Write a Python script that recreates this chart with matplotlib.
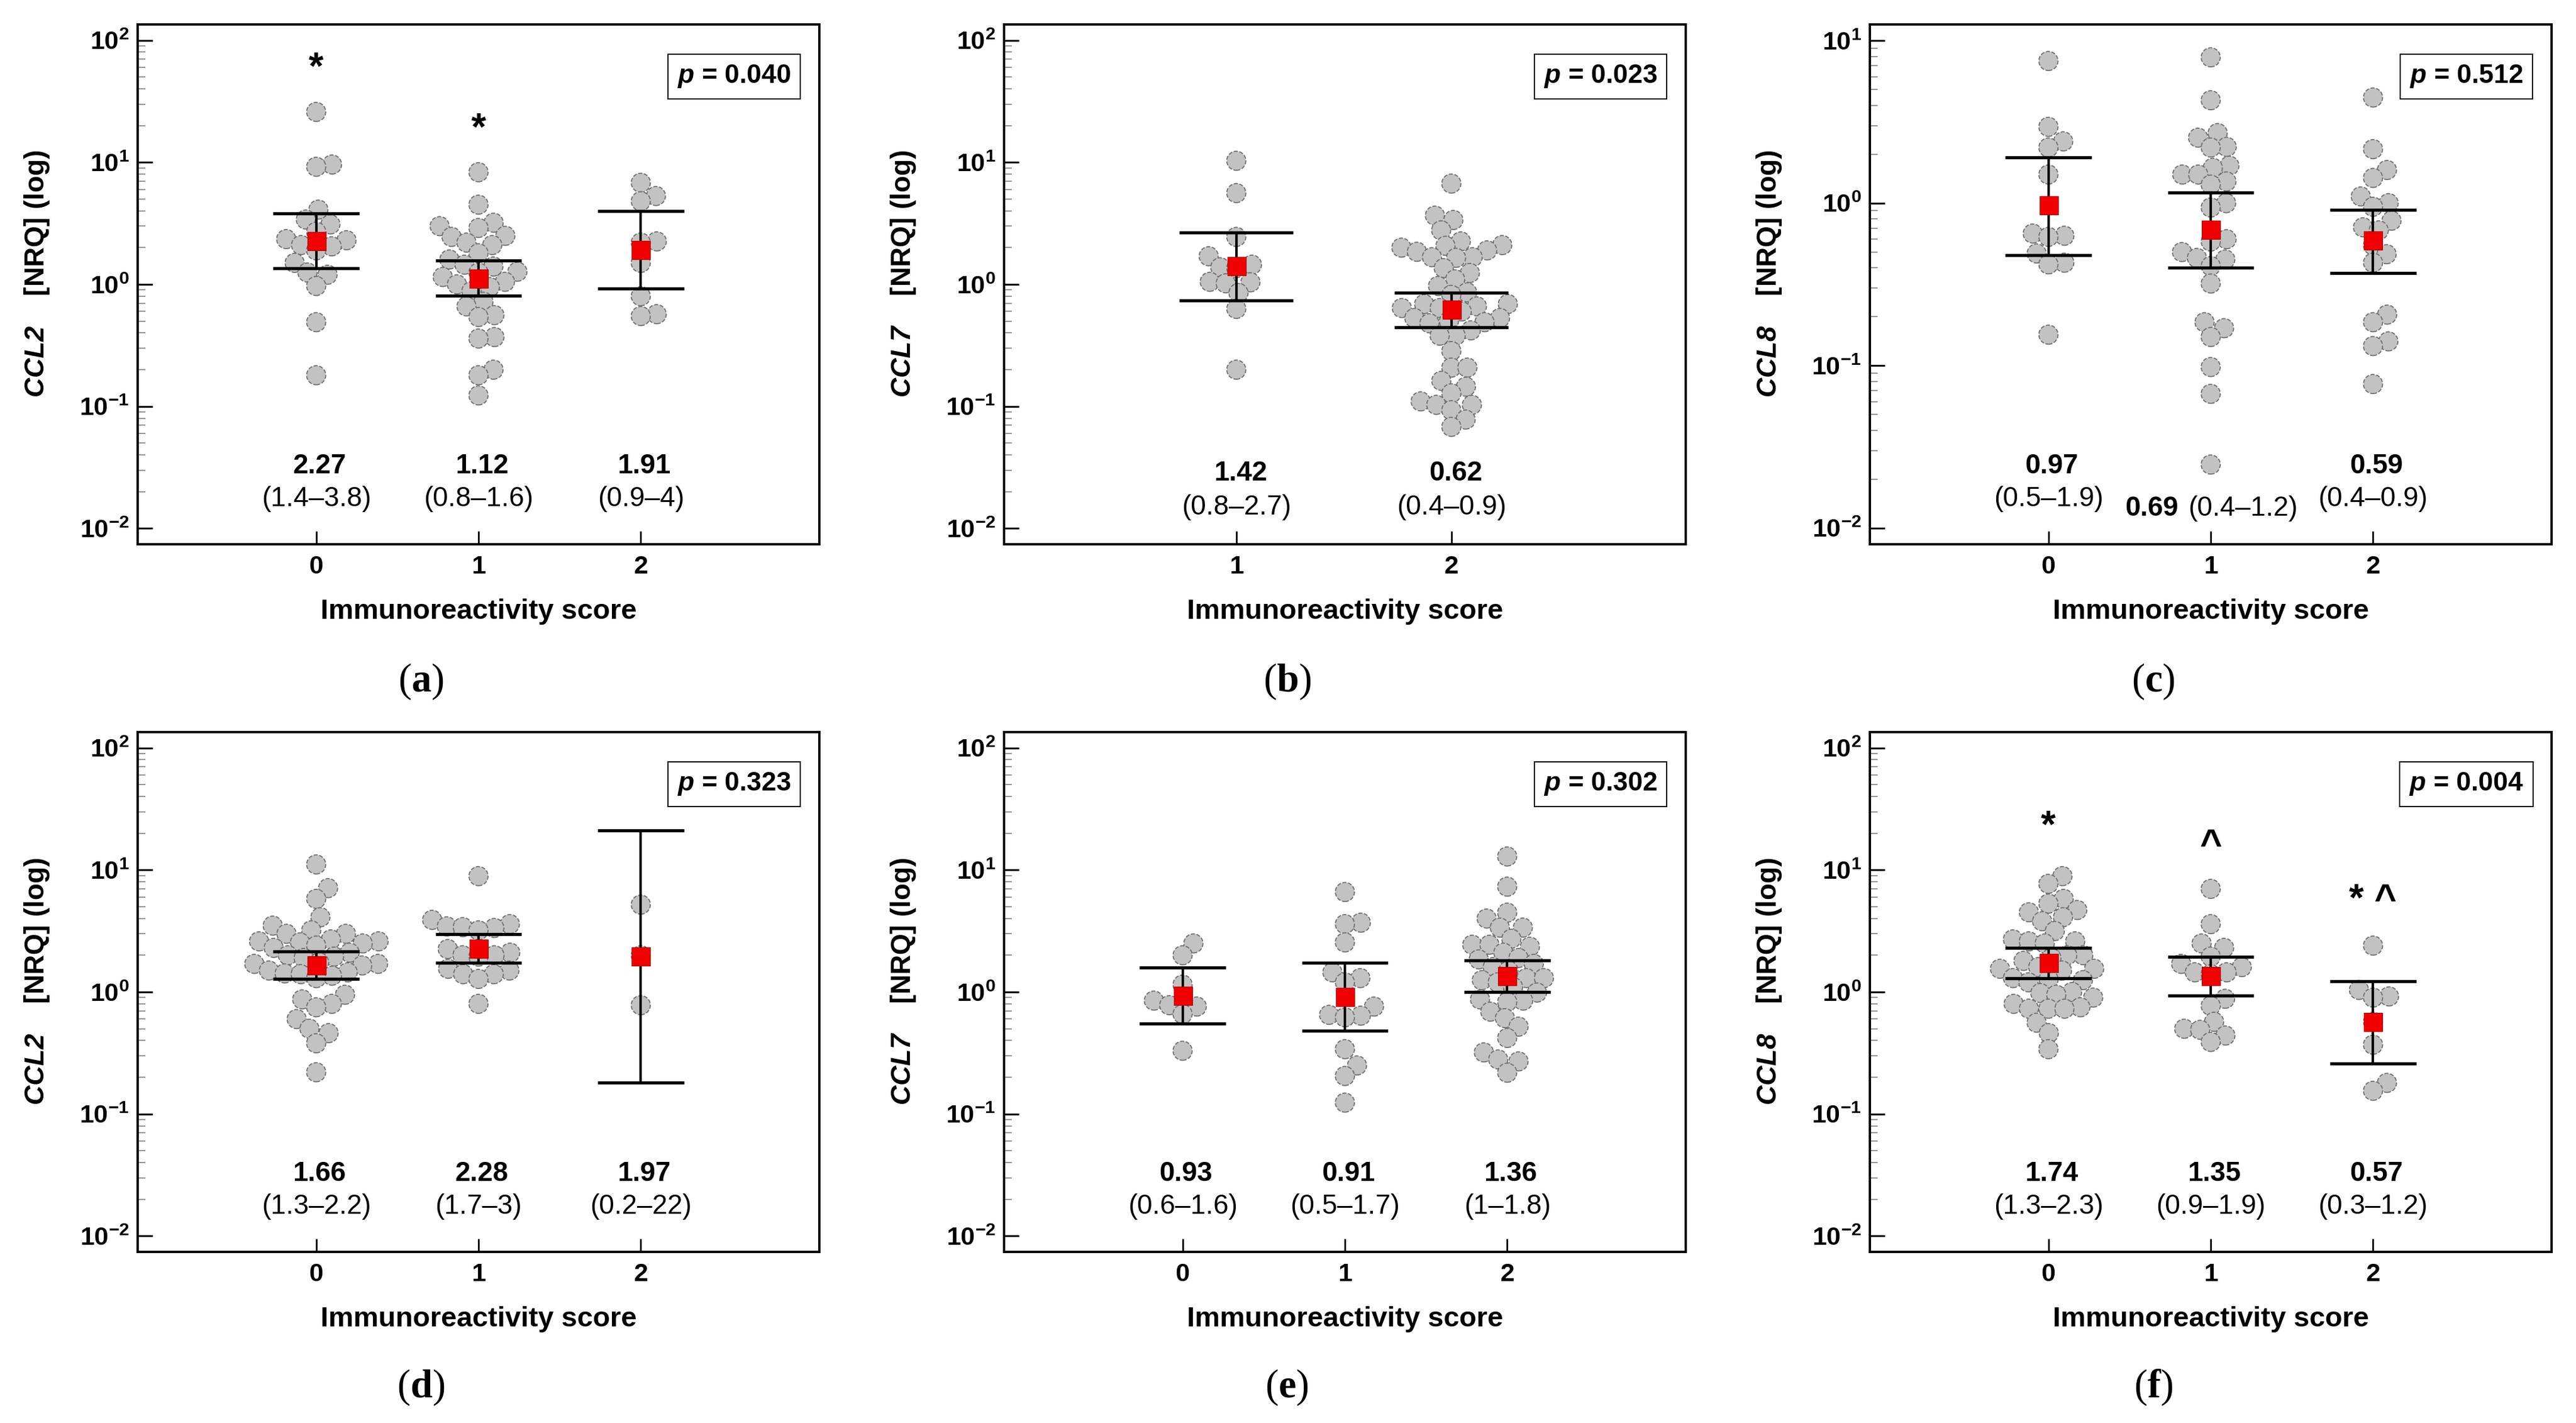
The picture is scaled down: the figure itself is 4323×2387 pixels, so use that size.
import numpy as np
import matplotlib
matplotlib.use("Agg")
import matplotlib.pyplot as plt
from matplotlib.transforms import blended_transform_factory

plt.rcParams["font.family"] = "Liberation Sans"
plt.rcParams["mathtext.fontset"] = "custom"
plt.rcParams["mathtext.rm"] = "Liberation Sans"
plt.rcParams["mathtext.bfit"] = "Liberation Sans:italic:bold"
plt.rcParams["mathtext.bf"] = "Liberation Serif:bold"

# ---- data ----
genes = ["CCL2", "CCL7", "CCL8", "CCL2", "CCL7", "CCL8"]
p_values = ["0.040", "0.023", "0.512", "0.323", "0.302", "0.004"]
panel_letters = ["a", "b", "c", "d", "e", "f"]

a_groups = [0, 1, 2]
a_vals = [
    [25.9, 9.6, 9.2, 4.1, 3.4, 3.1, 2.7, 2.35, 2.3, 2.1, 2.05, 1.9, 1.5, 1.25, 1.2, 0.97, 0.49, 0.18],
    [8.3, 4.5, 3.2, 3.0, 2.9, 2.5, 2.45, 2.2, 2.1, 1.8, 1.6, 1.45, 1.4, 1.27, 1.25, 1.15, 1.05,
     1.0, 0.95, 0.88, 0.72, 0.66, 0.56, 0.54, 0.37, 0.36, 0.2, 0.18, 0.123],
    [6.8, 5.3, 4.8, 2.25, 2.2, 1.5, 0.8, 0.57, 0.55],
]
a_med = [2.27, 1.12, 1.91]
a_lo = [1.35, 0.81, 0.92]
a_hi = [3.8, 1.57, 4.0]
a_ci = ["(1.4–3.8)", "(0.8–1.6)", "(0.9–4)"]
a_marks = ["*", "*", ""]
a_mark_y = [58, 18.5, None]

b_groups = [1, 2]
b_vals = [
    [10.3, 5.6, 2.45, 1.7, 1.45, 1.38, 1.36, 1.05, 1.04, 1.02, 0.85, 0.63, 0.2],
    [6.7, 3.66, 3.37, 2.77, 2.25, 2.1, 2.07, 2.0, 1.9, 1.85, 1.67, 1.67, 1.65, 1.36, 1.24, 1.1,
     0.97, 0.86, 0.82, 0.69, 0.69, 0.66, 0.64, 0.64, 0.6, 0.53, 0.53, 0.5, 0.49, 0.48, 0.42,
     0.38, 0.38, 0.284, 0.208, 0.208, 0.162, 0.145, 0.128, 0.11, 0.103, 0.103, 0.093, 0.078, 0.068],
]
b_med = [1.42, 0.62]
b_lo = [0.74, 0.445]
b_hi = [2.66, 0.85]
b_ci = ["(0.8–2.7)", "(0.4–0.9)"]

c_groups = [0, 1, 2]
c_vals = [
    [7.5, 2.95, 2.4, 2.2, 1.5, 0.65, 0.63, 0.62, 0.49, 0.43, 0.42, 0.155],
    [7.9, 4.3, 2.7, 2.53, 2.22, 2.2, 1.7, 1.65, 1.5, 1.5, 1.36, 1.3, 1.0, 0.94, 0.6, 0.58, 0.5,
     0.46, 0.45, 0.41, 0.32, 0.185, 0.17, 0.15, 0.098, 0.067, 0.0246],
    [4.47, 2.15, 1.6, 1.43, 1.1, 1.0, 0.95, 0.78, 0.71, 0.68, 0.55, 0.485, 0.43, 0.206, 0.185,
     0.141, 0.132, 0.077],
]
c_med = [0.97, 0.69, 0.59]
c_lo = [0.48, 0.40, 0.37]
c_hi = [1.92, 1.16, 0.91]
c_ci = ["(0.5–1.9)", "(0.4–1.2)", "(0.4–0.9)"]

d_groups = [0, 1, 2]
d_vals = [
    [11.1, 7.1, 5.8, 4.1, 3.5, 3.2, 3.0, 3.0, 2.7, 2.6, 2.6, 2.55, 2.5, 2.4, 2.3, 2.1, 2.0, 1.95,
     1.9, 1.75, 1.7, 1.7, 1.65, 1.5, 1.45, 1.42, 1.4, 1.36, 1.3, 0.95, 0.87, 0.8, 0.75, 0.6, 0.5,
     0.46, 0.38, 0.22],
    [8.9, 3.9, 3.6, 3.45, 3.4, 3.35, 3.2, 2.25, 2.1, 2.0, 2.0, 1.95, 1.55, 1.5, 1.4, 1.4, 1.28, 0.8],
    [5.2, 2.0, 0.78],
]
d_med = [1.66, 2.28, 1.97]
d_lo = [1.28, 1.73, 0.18]
d_hi = [2.15, 2.98, 21.0]
d_ci = ["(1.3–2.2)", "(1.7–3)", "(0.2–22)"]

e_groups = [0, 1, 2]
e_vals = [
    [2.5, 2.0, 1.15, 0.85, 0.78, 0.76, 0.66, 0.33],
    [6.6, 3.7, 3.6, 2.55, 1.45, 1.3, 1.2, 0.76, 0.65, 0.64, 0.62, 0.34, 0.25, 0.205, 0.124],
    [12.9, 7.3, 4.47, 4.0, 3.37, 3.37, 2.73, 2.44, 2.44, 2.35, 2.1, 1.9, 1.85, 1.7, 1.6, 1.5,
     1.3, 1.3, 1.25, 1.2, 1.1, 0.99, 0.87, 0.85, 0.83, 0.69, 0.61, 0.52, 0.42, 0.32, 0.28, 0.27,
     0.218],
]
e_med = [0.93, 0.91, 1.36]
e_lo = [0.55, 0.48, 1.0]
e_hi = [1.58, 1.73, 1.81]
e_ci = ["(0.6–1.6)", "(0.5–1.7)", "(1–1.8)"]

f_groups = [0, 1, 2]
f_vals = [
    [8.9, 7.7, 5.8, 5.3, 4.7, 4.5, 4.1, 3.8, 3.16, 2.7, 2.6, 2.6, 2.5, 2.0, 2.0, 1.9, 1.8, 1.6,
     1.55, 1.55, 1.5, 1.3, 1.27, 1.25, 1.2, 1.0, 0.98, 0.95, 0.9, 0.8, 0.75, 0.73, 0.73, 0.73,
     0.56, 0.46, 0.34],
    [7.0, 3.6, 2.5, 2.3, 1.95, 1.7, 1.6, 1.45, 1.45, 1.4, 0.88, 0.77, 0.57, 0.5, 0.49, 0.44, 0.39],
    [2.4, 1.04, 0.92, 0.9, 0.57, 0.37, 0.18, 0.155],
]
f_med = [1.74, 1.35, 0.57]
f_lo = [1.3, 0.94, 0.258]
f_hi = [2.31, 1.95, 1.22]
f_ci = ["(1.3–2.3)", "(0.9–1.9)", "(0.3–1.2)"]
f_marks = ["*", "^", "* ^"]
f_mark_y = [22.4, 15.8, 5.6]

panels = [
    dict(groups=a_groups, vals=a_vals, med=a_med, lo=a_lo, hi=a_hi, ci=a_ci,
         marks=a_marks, mark_y=a_mark_y, xlim=(-1.1, 3.1), ylog=(-2, 2)),
    dict(groups=b_groups, vals=b_vals, med=b_med, lo=b_lo, hi=b_hi, ci=b_ci,
         marks=None, mark_y=None, xlim=(-0.08, 3.09), ylog=(-2, 2)),
    dict(groups=c_groups, vals=c_vals, med=c_med, lo=c_lo, hi=c_hi, ci=c_ci,
         marks=None, mark_y=None, xlim=(-1.1, 3.1), ylog=(-2, 1)),
    dict(groups=d_groups, vals=d_vals, med=d_med, lo=d_lo, hi=d_hi, ci=d_ci,
         marks=None, mark_y=None, xlim=(-1.1, 3.1), ylog=(-2, 2)),
    dict(groups=e_groups, vals=e_vals, med=e_med, lo=e_lo, hi=e_hi, ci=e_ci,
         marks=None, mark_y=None, xlim=(-1.1, 3.1), ylog=(-2, 2)),
    dict(groups=f_groups, vals=f_vals, med=f_med, lo=f_lo, hi=f_hi, ci=f_ci,
         marks=f_marks, mark_y=f_mark_y, xlim=(-1.1, 3.1), ylog=(-2, 2)),
]

# ---- layout ----
W, H, DPI = 4323, 2387, 100
fig = plt.figure(figsize=(W / DPI, H / DPI), dpi=DPI)
lefts = [231, 1685, 3138]
tops = [41, 1228]
ax_w, ax_h = 1144, 872
label_x = [706, 2160, 3614]
label_y = [1143, 2327]

DOT_PX = 32
DOT_S = (DOT_PX * 72 / DPI) ** 2
SQ_S = (31 * 72 / DPI) ** 2


def swarm(ax, x0, vals, dist_px):
    # simple beeswarm: place points bottom-up, as close to the centre line as possible
    pts = ax.transData.transform(np.column_stack([np.full(len(vals), x0), vals]))
    ys = pts[:, 1]
    px_unit = ax.transData.transform((1, 1))[0] - ax.transData.transform((0, 1))[0]
    offs = np.zeros(len(vals))
    placed = []
    for i in np.argsort(ys):
        y = ys[i]
        cands = [0.0]
        for px, py in placed:
            dy = abs(py - y)
            if dy < dist_px:
                dx = np.sqrt(dist_px ** 2 - dy ** 2)
                cands += [px + dx, px - dx]
        for c in sorted(cands, key=abs):
            if all((c - px) ** 2 + (y - py) ** 2 >= dist_px ** 2 - 1e-6 for px, py in placed):
                offs[i] = c
                placed.append((c, y))
                break
    return x0 + offs / px_unit


for k, pan in enumerate(panels):
    row, col = divmod(k, 3)
    left = lefts[col] / W
    bottom = 1 - (tops[row] + ax_h) / H
    ax = fig.add_axes([left, bottom, ax_w / W, ax_h / H])
    lo_e, hi_e = pan["ylog"]
    margin = 0.1 if hi_e - lo_e == 3 else 0.13
    ax.set_yscale("log")
    ax.set_ylim(10 ** (lo_e - margin), 10 ** (hi_e + margin))
    ax.set_xlim(*pan["xlim"])

    for sp in ax.spines.values():
        sp.set_linewidth(2.8)

    majors = [10.0 ** e for e in range(lo_e, hi_e + 1)]
    minors = [m * 10.0 ** e for e in range(lo_e, hi_e) for m in range(2, 10)]
    ax.set_yticks(majors, labels=[r"$\mathdefault{10^{%d}}$" % e for e in range(lo_e, hi_e + 1)],
                  fontsize=31, fontweight="bold")
    ax.set_yticks(minors, minor=True)
    ax.yaxis.set_minor_formatter(plt.NullFormatter())
    ax.tick_params(axis="y", which="major", direction="in", length=18, width=2.2, pad=10,
                   right=False)
    ax.tick_params(axis="y", which="minor", direction="in", length=9, width=1.3,
                   color="#8a8a8a", right=False)
    ax.set_xticks(pan["groups"], labels=[str(g) for g in pan["groups"]],
                  fontsize=31, fontweight="bold")
    ax.tick_params(axis="x", which="major", direction="in", length=16, width=2.0, pad=13,
                   top=False)
    ax.tick_params(axis="x", which="minor", bottom=False, top=False)

    ax.set_xlabel("Immunoreactivity score", fontsize=34, fontweight="bold", va="center")
    ax.xaxis.set_label_coords(0.5, -0.13)
    ax.set_ylabel(r"$\mathbfit{" + genes[k] + r"}$    [NRQ] (log)", fontsize=33,
                  fontweight="bold", va="center")
    ax.yaxis.set_label_coords(-0.148, 0.52)

    trans = blended_transform_factory(ax.transData, ax.transAxes)
    for gi, g in enumerate(pan["groups"]):
        vals = pan["vals"][gi]
        xs = swarm(ax, g, vals, DOT_PX * 0.84)
        ax.scatter(xs, vals, s=DOT_S, c="#c2c2c2", edgecolors="#6e6e6e", linewidths=1.3,
                   linestyles="--", zorder=2)
        ax.vlines(g, pan["lo"][gi], pan["hi"][gi], color="black", lw=3.0, zorder=3)
        ax.hlines([pan["lo"][gi], pan["hi"][gi]], g - 0.265, g + 0.265, color="black",
                  lw=3.8, zorder=3)
        ax.scatter([g], [pan["med"][gi]], s=SQ_S, marker="s", c="#f00000",
                   edgecolors="#b00000", linewidths=0.8, zorder=4)

        if k == 2 and g == 1:
            ax.text(0.80, 0.069, "%.2f" % pan["med"][gi], transform=trans, ha="right",
                    va="center", fontsize=33, fontweight="bold")
            ax.text(0.86, 0.069, pan["ci"][gi], transform=trans, ha="left",
                    va="center", fontsize=33)
        else:
            y1, y2 = (0.136, 0.071) if k == 1 else (0.15, 0.087)
            ax.text(g + 0.02, y1, "%.2f" % pan["med"][gi], transform=trans, ha="center",
                    va="center", fontsize=33, fontweight="bold")
            ax.text(g, y2, pan["ci"][gi], transform=trans, ha="center", va="center",
                    fontsize=33)

        if pan["marks"] and pan["marks"][gi]:
            ax.text(g, pan["mark_y"][gi], pan["marks"][gi], ha="center", va="center",
                    fontsize=46, fontweight="bold")

    ax.text(0.875, 0.90, r"$\mathbfit{p}$ = " + p_values[k], transform=ax.transAxes,
            ha="center", va="center", fontsize=32, fontweight="bold",
            bbox=dict(boxstyle="square,pad=0.35", fc="white", ec="black", lw=1.4))

    fig.text(label_x[col] / W, 1 - label_y[row] / H, r"($\mathbf{" + panel_letters[k] + r"}$)",
             ha="center", va="center", fontsize=48, family="Liberation Serif")

fig.savefig("out.png", dpi=DPI, facecolor="white")
